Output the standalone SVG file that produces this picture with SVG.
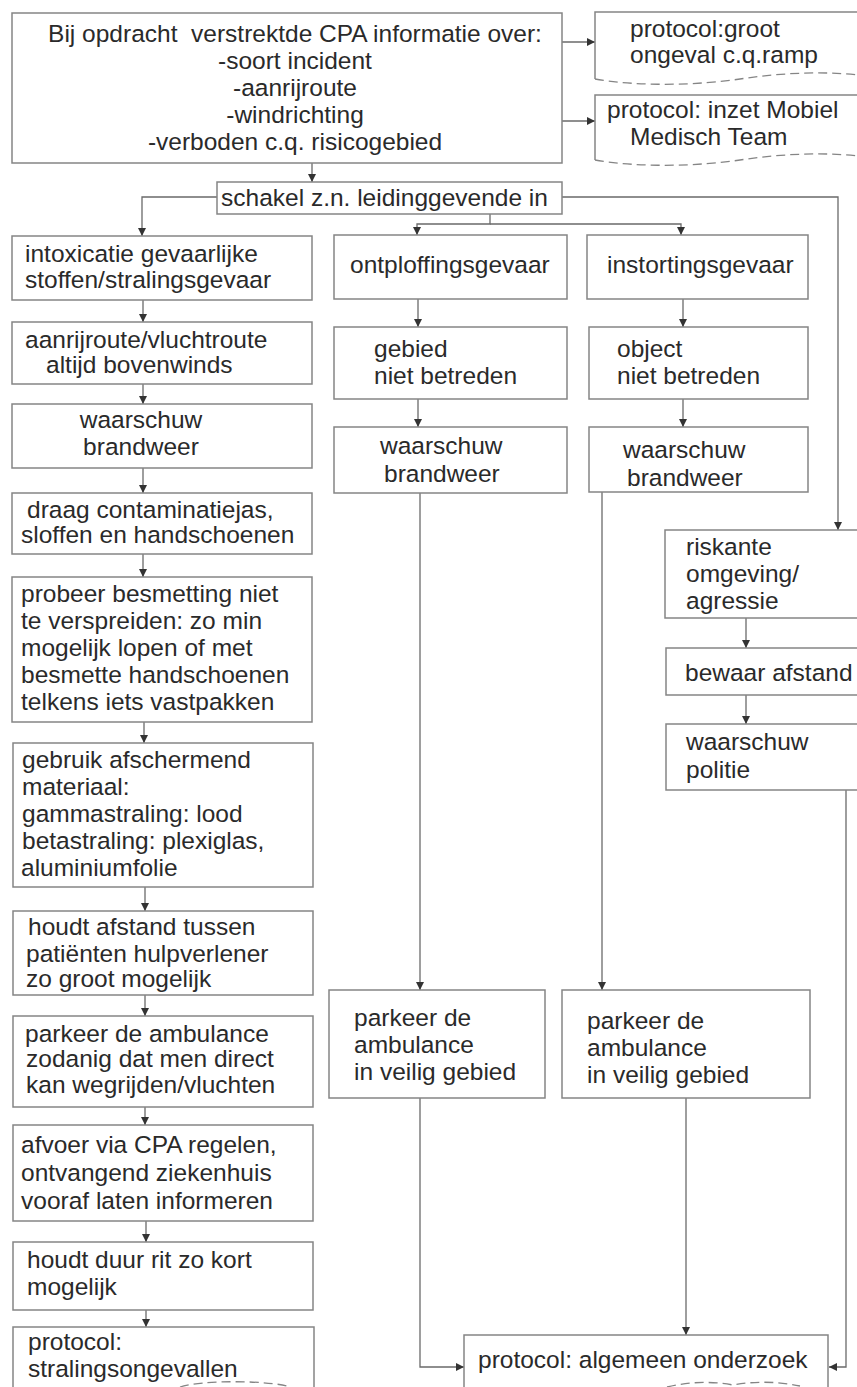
<svg xmlns="http://www.w3.org/2000/svg" width="857" height="1387" viewBox="0 0 857 1387">
<style>
.b{fill:#fff;stroke:#858585;stroke-width:1.5}
.o{fill:none;stroke:#858585;stroke-width:1.5}
.w{fill:none;stroke:#858585;stroke-width:1.3;stroke-dasharray:9 5}
.t{font-family:"Liberation Sans",Arial,sans-serif;font-size:24.5px;fill:#2a2a2a;white-space:pre}
.m{text-anchor:middle}
.c{fill:none;stroke:#6a6a6a;stroke-width:1.3}
</style>
<defs>
<marker id="ah" markerUnits="userSpaceOnUse" markerWidth="9" markerHeight="9" refX="8" refY="4" orient="auto">
<path d="M0,0 L8,4 L0,8 z" fill="#333"/>
</marker>
</defs>
<rect width="857" height="1387" fill="#fff"/>

<g id="connectors" class="c" marker-end="url(#ah)">
<path d="M562,42 H595"/>
<path d="M562,121 H595"/>
<path d="M312,163 V182"/>
<path d="M217,197 H142 V236"/>
<path d="M562,197 H838 V530"/>
<path d="M490,214 V224 H417 V235"/>
<path d="M490,224 H681 V235"/>
<path d="M143,300 V322"/>
<path d="M143,384 V404"/>
<path d="M143,468 V493"/>
<path d="M143,554 V577"/>
<path d="M144,722 V743"/>
<path d="M145,887 V911"/>
<path d="M145,995 V1016"/>
<path d="M145,1107 V1125"/>
<path d="M146,1221 V1242"/>
<path d="M146,1310 V1327"/>
<path d="M418,299 V327"/>
<path d="M418,399 V427"/>
<path d="M420,493 V990"/>
<path d="M683,299 V327"/>
<path d="M683,399 V427"/>
<path d="M602,492 V990"/>
<path d="M746,618 V648"/>
<path d="M746,695 V724"/>
<path d="M846,790 V1367 H829"/>
<path d="M420,1098 V1367 H464"/>
<path d="M686,1098 V1335"/>
</g>

<g id="n-top">
<rect class="b" x="12" y="13" width="550" height="150"/>
<text class="t m" x="295" y="42" xml:space="preserve">Bij opdracht  verstrektde CPA informatie over:</text>
<text class="t m" x="295" y="69">-soort incident</text>
<text class="t m" x="295" y="96">-aanrijroute</text>
<text class="t m" x="295" y="123">-windrichting</text>
<text class="t m" x="295" y="150">-verboden c.q. risicogebied</text>
</g>

<g id="n-ramp">
<path class="o" d="M595,79 V12 H860"/>
<path class="w" d="M595,79 C640,87 700,85 740,79 S820,71 860,75"/>
<text class="t" x="630" y="37">protocol:groot</text>
<text class="t" x="630" y="63">ongeval c.q.ramp</text>
</g>

<g id="n-mmt">
<path class="o" d="M595,160 V95 H860"/>
<path class="w" d="M595,160 C640,168 700,166 740,160 S820,152 860,156"/>
<text class="t" x="607" y="118">protocol: inzet Mobiel</text>
<text class="t" x="630" y="145">Medisch Team</text>
</g>

<g id="n-schakel">
<rect class="b" x="217" y="182" width="345" height="32"/>
<text class="t" x="221" y="206">schakel z.n. leidinggevende in</text>
</g>

<g id="n-intox">
<rect class="b" x="12" y="236" width="300" height="64"/>
<text class="t" x="25" y="262">intoxicatie gevaarlijke</text>
<text class="t" x="25" y="288">stoffen/stralingsgevaar</text>
</g>

<g id="n-aanrij">
<rect class="b" x="12" y="322" width="300" height="62"/>
<text class="t" x="25" y="348">aanrijroute/vluchtroute</text>
<text class="t" x="46" y="373">altijd bovenwinds</text>
</g>

<g id="n-brandweer1">
<rect class="b" x="12" y="404" width="300" height="64"/>
<text class="t m" x="141" y="428">waarschuw</text>
<text class="t m" x="141" y="455">brandweer</text>
</g>

<g id="n-draag">
<rect class="b" x="12" y="493" width="300" height="61"/>
<text class="t" x="27" y="518">draag contaminatiejas,</text>
<text class="t" x="21" y="543">sloffen en handschoenen</text>
</g>

<g id="n-probeer">
<rect class="b" x="12" y="577" width="300" height="145"/>
<text class="t" x="21" y="602">probeer besmetting niet</text>
<text class="t" x="21" y="629">te verspreiden: zo min</text>
<text class="t" x="21" y="656">mogelijk lopen of met</text>
<text class="t" x="21" y="683">besmette handschoenen</text>
<text class="t" x="21" y="710">telkens iets vastpakken</text>
</g>

<g id="n-gebruik">
<rect class="b" x="13" y="743" width="300" height="144"/>
<text class="t" x="22" y="768">gebruik afschermend</text>
<text class="t" x="22" y="795">materiaal:</text>
<text class="t" x="22" y="822">gammastraling: lood</text>
<text class="t" x="22" y="849">betastraling: plexiglas,</text>
<text class="t" x="21" y="876">aluminiumfolie</text>
</g>

<g id="n-afstand">
<rect class="b" x="13" y="911" width="300" height="84"/>
<text class="t" x="28" y="935">houdt afstand tussen</text>
<text class="t" x="26" y="962">patiënten hulpverlener</text>
<text class="t" x="26" y="987">zo groot mogelijk</text>
</g>

<g id="n-parkeer1">
<rect class="b" x="13" y="1016" width="300" height="91"/>
<text class="t" x="25" y="1042">parkeer de ambulance</text>
<text class="t" x="26" y="1067">zodanig dat men direct</text>
<text class="t" x="26" y="1093">kan wegrijden/vluchten</text>
</g>

<g id="n-afvoer">
<rect class="b" x="13" y="1125" width="300" height="96"/>
<text class="t" x="21" y="1153">afvoer via CPA regelen,</text>
<text class="t" x="21" y="1181">ontvangend ziekenhuis</text>
<text class="t" x="21" y="1209">vooraf laten informeren</text>
</g>

<g id="n-duur">
<rect class="b" x="13" y="1242" width="300" height="68"/>
<text class="t" x="27" y="1268">houdt duur rit zo kort</text>
<text class="t" x="27" y="1295">mogelijk</text>
</g>

<g id="n-straling">
<path class="o" d="M13,1390 V1327 H314 V1390"/>
<path class="w" d="M180,1387 C200,1380 270,1380 290,1387"/>
<text class="t" x="28" y="1350">protocol:</text>
<text class="t" x="28" y="1377">stralingsongevallen</text>
</g>

<g id="n-ontploffing">
<rect class="b" x="334" y="235" width="233" height="64"/>
<text class="t" x="350" y="273">ontploffingsgevaar</text>
</g>

<g id="n-gebied">
<rect class="b" x="334" y="327" width="233" height="72"/>
<text class="t" x="374" y="357">gebied</text>
<text class="t" x="374" y="384">niet betreden</text>
</g>

<g id="n-brandweer2">
<rect class="b" x="334" y="427" width="233" height="66"/>
<text class="t" x="380" y="454">waarschuw</text>
<text class="t" x="384" y="482">brandweer</text>
</g>

<g id="n-parkeer2">
<rect class="b" x="329" y="990" width="216" height="108"/>
<text class="t" x="354" y="1026">parkeer de</text>
<text class="t" x="354" y="1053">ambulance</text>
<text class="t" x="354" y="1080">in veilig gebied</text>
</g>

<g id="n-instorting">
<rect class="b" x="587" y="235" width="221" height="64"/>
<text class="t" x="607" y="273">instortingsgevaar</text>
</g>

<g id="n-object">
<rect class="b" x="589" y="327" width="219" height="72"/>
<text class="t" x="617" y="357">object</text>
<text class="t" x="617" y="384">niet betreden</text>
</g>

<g id="n-brandweer3">
<rect class="b" x="589" y="427" width="219" height="65"/>
<text class="t" x="623" y="458">waarschuw</text>
<text class="t" x="627" y="486">brandweer</text>
</g>

<g id="n-parkeer3">
<rect class="b" x="562" y="990" width="248" height="108"/>
<text class="t" x="587" y="1029">parkeer de</text>
<text class="t" x="587" y="1056">ambulance</text>
<text class="t" x="587" y="1083">in veilig gebied</text>
</g>

<g id="n-riskant">
<rect class="b" x="665" y="530" width="200" height="88"/>
<text class="t" x="686" y="555">riskante</text>
<text class="t" x="686" y="582">omgeving/</text>
<text class="t" x="686" y="609">agressie</text>
</g>

<g id="n-bewaar">
<rect class="b" x="666" y="648" width="200" height="47"/>
<text class="t" x="685" y="681">bewaar afstand</text>
</g>

<g id="n-politie">
<rect class="b" x="666" y="724" width="200" height="66"/>
<text class="t" x="686" y="750">waarschuw</text>
<text class="t" x="686" y="778">politie</text>
</g>

<g id="n-algemeen">
<path class="o" d="M464,1390 V1335 H828 V1390"/>
<path class="w" d="M667,1387 Q700,1379 733,1385 Q766,1379 800,1386"/>
<text class="t" x="478" y="1368">protocol: algemeen onderzoek</text>
</g>
</svg>
